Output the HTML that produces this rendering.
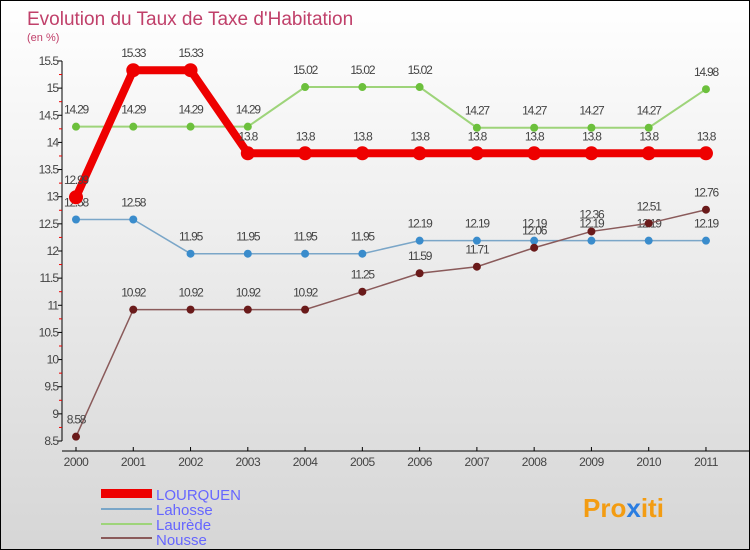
<!DOCTYPE html>
<html><head><meta charset="utf-8"><style>
body{margin:0}
#c{width:748px;height:548px;border:1px solid #000;background:linear-gradient(#fff,#d6d6d6);position:relative;font-family:"Liberation Sans",sans-serif;overflow:hidden}
svg text{font-family:"Liberation Sans",sans-serif}
</style></head><body>
<div id="c">
<svg width="748" height="548" id="s">
<text x="26" y="24" font-size="19" fill="#c0406a">Evolution du Taux de Taxe d'Habitation</text>
<text x="26" y="40" font-size="11" fill="#c0406a">(en %)</text>
<g id="g"></g>
<g>
<rect x="100" y="488" width="51" height="9" fill="#e00"/>
<text x="155" y="499" font-size="15" fill="#66f">LOURQUEN</text>
<rect x="100" y="507" width="51" height="2" fill="#7aa6c8"/>
<text x="155" y="514" font-size="15" fill="#66f">Lahosse</text>
<rect x="100" y="522" width="51" height="2" fill="#9ed47a"/>
<text x="155" y="529" font-size="15" fill="#66f">Laurède</text>
<rect x="100" y="536" width="51" height="2" fill="#8a5a5a"/>
<text x="155" y="544" font-size="15" fill="#66f">Nousse</text>
</g>
<text x="582" y="516" font-size="26" font-weight="bold"><tspan fill="#f39c12">Pro</tspan><tspan fill="#2a7de1">x</tspan><tspan fill="#f39c12">iti</tspan></text>
</svg>
</div>
<script>
const years=["2000","2001","2002","2003","2004","2005","2006","2007","2008","2009","2010","2011"];
const yTicks=[8.5,9,9.5,10,10.5,11,11.5,12,12.5,13,13.5,14,14.5,15,15.5];
const lourquen=[12.99,15.33,15.33,13.8,13.8,13.8,13.8,13.8,13.8,13.8,13.8,13.8];
const lahosse=[12.58,12.58,11.95,11.95,11.95,11.95,12.19,12.19,12.19,12.19,12.19,12.19];
const laurede=[14.29,14.29,14.29,14.29,15.02,15.02,15.02,14.27,14.27,14.27,14.27,14.98];
const nousse=[8.58,10.92,10.92,10.92,10.92,11.25,11.59,11.71,12.06,12.36,12.51,12.76];
const X=i=>75+i*57.27, Y=v=>440-(v-8.5)*54.29;
const g=document.getElementById('g'),NS='http://www.w3.org/2000/svg';
function el(t,a){const e=document.createElementNS(NS,t);for(const k in a)e.setAttribute(k,a[k]);g.appendChild(e);return e;}
let e=el('line',{x1:61,y1:60,x2:61,y2:440,stroke:'#000'});


e=el('line',{x1:61,y1:450,x2:748,y2:450,stroke:'#000'});


yTicks.forEach((v,k)=>{
 e=el('line',{x1:57,y1:Y(v),x2:61,y2:Y(v),stroke:'#000'});
 
 
 if(k<yTicks.length-1){
 e=el('line',{x1:58,y1:Y(v+0.25),x2:61,y2:Y(v+0.25),stroke:'#e00'});
 
 
 }
 e=el('text',{x:57,y:Y(v)+4,'font-size':12,fill:'#444','text-anchor':'end','letter-spacing':'-1'});e.textContent=String(v);
 
 
});
years.forEach((y,i)=>{
 e=el('line',{x1:X(i),y1:446,x2:X(i),y2:450,stroke:'#000'});
 
 
 e=el('text',{x:X(i),y:465,'font-size':12,fill:'#444','text-anchor':'middle','letter-spacing':'-0.5'});e.textContent=y;
 
 
});
function series(d,col,dot,w,r,name){
 e=el('polyline',{points:d.map((v,i)=>X(i)+','+Y(v)).join(' '),fill:'none',stroke:col,'stroke-width':w});
 
 
 d.forEach((v,i)=>{
  e=el('circle',{cx:X(i),cy:Y(v),r:r,fill:dot});
  
  
  e=el('text',{x:X(i),y:Y(v)-13,'font-size':12,fill:'#444','text-anchor':'middle','letter-spacing':'-1.2'});e.textContent=String(v);
  
  
 });
}
series(laurede,'#9ed47a','#6cc03c',2,4,'laurede');
series(lahosse,'#7aa6c8','#3a8ccc',1.5,4,'lahosse');
series(nousse,'#8a5a5a','#6a1a1a',1.5,4,'nousse');
series(lourquen,'#e00','#e00',8,7,'lourquen');
</script>
</body></html>
